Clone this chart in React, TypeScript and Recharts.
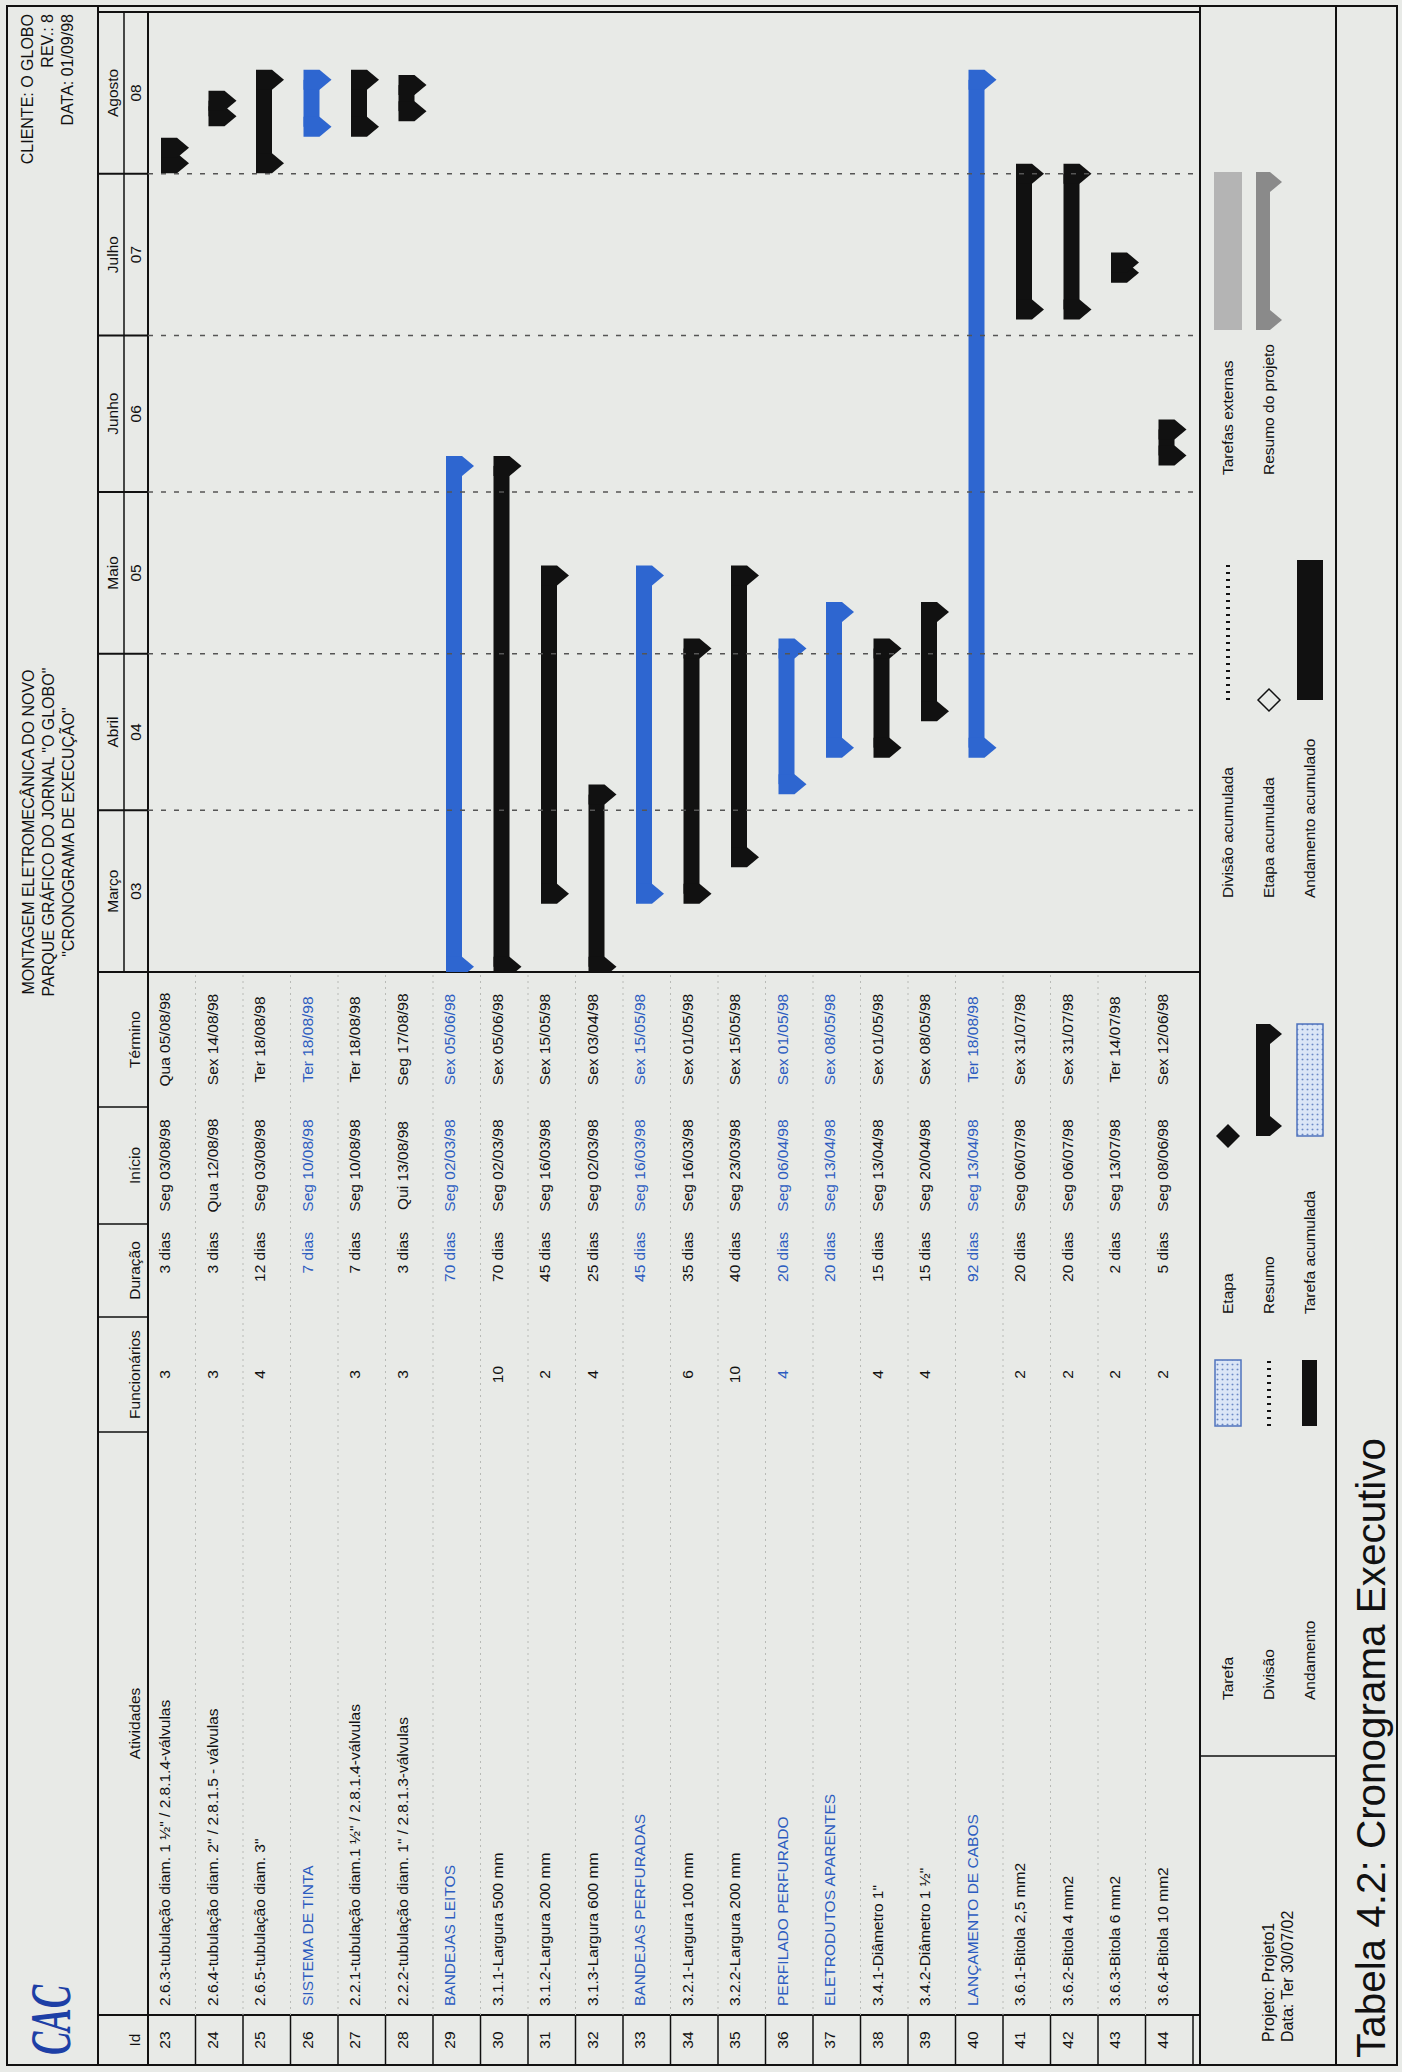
import React from 'react';
import { BarChart, Bar, XAxis, YAxis, ReferenceLine } from 'recharts';

// ---------------- data ----------------
const ids = [23, 24, 25, 26, 27, 28, 29, 30, 31, 32, 33, 34, 35, 36, 37, 38, 39, 40, 41, 42, 43, 44];
const activities = [
  '2.6.3-tubulação diam. 1 ½" / 2.8.1.4-válvulas',
  '2.6.4-tubulação diam. 2" / 2.8.1.5 - válvulas',
  '2.6.5-tubulação diam. 3"',
  'SISTEMA DE TINTA',
  '2.2.1-tubulação diam.1 ½" / 2.8.1.4-válvulas',
  '2.2.2-tubulação diam. 1" / 2.8.1.3-válvulas',
  'BANDEJAS LEITOS',
  '3.1.1-Largura 500 mm',
  '3.1.2-Largura 200 mm',
  '3.1.3-Largura 600 mm',
  'BANDEJAS PERFURADAS',
  '3.2.1-Largura 100 mm',
  '3.2.2-Largura 200 mm',
  'PERFILADO PERFURADO',
  'ELETRODUTOS APARENTES',
  '3.4.1-Diâmetro 1"',
  '3.4.2-Diâmetro 1 ½"',
  'LANÇAMENTO DE CABOS',
  '3.6.1-Bitola 2,5 mm2',
  '3.6.2-Bitola 4 mm2',
  '3.6.3-Bitola 6 mm2',
  '3.6.4-Bitola 10 mm2',
];
const workers = ['3', '3', '4', '', '3', '3', '', '10', '2', '4', '', '6', '10', '4', '', '4', '4', '', '2', '2', '2', '2'];
const durations = ['3 dias', '3 dias', '12 dias', '7 dias', '7 dias', '3 dias', '70 dias', '70 dias', '45 dias', '25 dias', '45 dias', '35 dias', '40 dias', '20 dias', '20 dias', '15 dias', '15 dias', '92 dias', '20 dias', '20 dias', '2 dias', '5 dias'];
const starts = ['Seg 03/08/98', 'Qua 12/08/98', 'Seg 03/08/98', 'Seg 10/08/98', 'Seg 10/08/98', 'Qui 13/08/98', 'Seg 02/03/98', 'Seg 02/03/98', 'Seg 16/03/98', 'Seg 02/03/98', 'Seg 16/03/98', 'Seg 16/03/98', 'Seg 23/03/98', 'Seg 06/04/98', 'Seg 13/04/98', 'Seg 13/04/98', 'Seg 20/04/98', 'Seg 13/04/98', 'Seg 06/07/98', 'Seg 06/07/98', 'Seg 13/07/98', 'Seg 08/06/98'];
const ends = ['Qua 05/08/98', 'Sex 14/08/98', 'Ter 18/08/98', 'Ter 18/08/98', 'Ter 18/08/98', 'Seg 17/08/98', 'Sex 05/06/98', 'Sex 05/06/98', 'Sex 15/05/98', 'Sex 03/04/98', 'Sex 15/05/98', 'Sex 01/05/98', 'Sex 15/05/98', 'Sex 01/05/98', 'Sex 08/05/98', 'Sex 01/05/98', 'Sex 08/05/98', 'Ter 18/08/98', 'Sex 31/07/98', 'Sex 31/07/98', 'Ter 14/07/98', 'Sex 12/06/98'];
const summaryIds = [26, 29, 33, 36, 37, 40];
const monthNames = ['Março', 'Abril', 'Maio', 'Junho', 'Julho', 'Agosto'];
const monthNumbers = ['03', '04', '05', '06', '07', '08'];
const monthStarts = ['01/03/98', '01/04/98', '01/05/98', '01/06/98', '01/07/98', '01/08/98', '01/09/98'];
const columnHeaders = ['Id', 'Atividades', 'Funcionários', 'Duração', 'Início', 'Término'];
const titleLines = ['MONTAGEM ELETROMECÂNICA DO NOVO', 'PARQUE GRÁFICO DO JORNAL "O GLOBO"', '"CRONOGRAMA DE EXECUÇÃO"'];
const clientLines = ['CLIENTE: O GLOBO', 'REV.: 8', 'DATA: 01/09/98'];
const projectLines = ['Projeto: Projeto1', 'Data: Ter 30/07/02'];
const legendCol1 = ['Tarefa', 'Divisão', 'Andamento'];
const legendCol2 = ['Etapa', 'Resumo', 'Tarefa acumulada'];
const legendCol3 = ['Divisão acumulada', 'Etapa acumulada', 'Andamento acumulado'];
const legendCol4 = ['Tarefas externas', 'Resumo do projeto'];
const caption = 'Tabela 4.2: Cronograma Executivo';

// ---------------- helpers ----------------
const BASE = Date.UTC(1998, 2, 1);
const dayOf = (s: string) => {
  const [d, m, y] = s.slice(-8).split('/').map(Number);
  return (Date.UTC(1900 + y, m - 1, d) - BASE) / 86400000;
};
const boundaryDays = monthStarts.map(dayOf);
const midDays = monthNames.map((_, i) => (boundaryDays[i] + boundaryDays[i + 1]) / 2);

const rows = ids.map((id, i) => ({
  id: String(id),
  range: [dayOf(starts[i]), dayOf(ends[i]) + 1],
  summary: summaryIds.includes(id),
}));

// ---------------- style / layout ----------------
const FONT = "'Liberation Sans Narrow','Arial Narrow','Liberation Sans',Arial,sans-serif";
const BLUE_TEXT = '#2c5cc0';
const BLUE_BAR = '#2e66d0';
const INK = '#111';
const BG = '#e8eae7';

const PAGE_W = 2072;
const PAGE_H = 1402;
const FX0 = 7, FY0 = 7, FX1 = 2066, FY1 = 1397;
const HEAD_Y = 98;
const ROW_TOP = 148;
const PITCH = 47.5;
const N = ids.length;
const TABLE_BOTTOM = 1200;
const LEGEND_BOTTOM = 1336;
const COLS = [FX0, 57, 640, 755, 848, 965, 1100];
const CHART_RIGHT = 2060;
const CHART_W = CHART_RIGHT - COLS[6];
const HEADER_H = ROW_TOP - HEAD_Y;
const CHART_H = HEADER_H + N * PITCH + (TABLE_BOTTOM - (ROW_TOP + N * PITCH));

const summaryShape = (x0: number, x1: number, top: number, color: string, body = 16, tip = 28, hw = 10) => {
  const cap = (cx: number) =>
    `${cx - hw},${top} ${cx + hw},${top} ${cx + hw},${top + body} ${cx},${top + tip} ${cx - hw},${top + body}`;
  return (
    <g fill={color}>
      <rect x={x0} y={top} width={Math.max(0, x1 - x0)} height={body} />
      <polygon points={cap(x0)} />
      <polygon points={cap(x1)} />
    </g>
  );
};

const GanttShape = (props: any) => {
  const { x, y, width, height, payload } = props;
  if (x == null || width == null) return null;
  const color = payload && payload.summary ? BLUE_BAR : INK;
  const top = y + height / 2 - 11;
  return summaryShape(x, x + width, top, color);
};

const MonthTick = (props: any) => {
  const { x, payload } = props;
  const v = payload.value;
  const bi = boundaryDays.indexOf(v);
  if (bi >= 0) {
    return <line x1={x} x2={x} y1={0} y2={HEADER_H} stroke={INK} strokeWidth={2} />;
  }
  const mi = midDays.indexOf(v);
  if (mi < 0) return null;
  return (
    <g fontFamily={FONT} fontSize={15.5} fill={INK}>
      <text x={x} y={20} textAnchor="middle">{monthNames[mi]}</text>
      <text x={x} y={43} textAnchor="middle">{monthNumbers[mi]}</text>
    </g>
  );
};

const colCenter = (c: number) => (COLS[c] + COLS[c + 1]) / 2;

export default function App() {
  const legendRowsY = [1228, 1269, 1310];
  return (
    <div style={{ position: 'absolute', left: 0, top: 0, width: 1402, height: 2072, overflow: 'hidden', background: BG }}>
      <div
        style={{
          position: 'absolute', left: 0, top: 0, width: PAGE_W, height: PAGE_H,
          transformOrigin: '0 0', transform: `translate(0px, ${PAGE_W}px) rotate(-90deg)`,
        }}
      >
        <svg width={PAGE_W} height={PAGE_H} style={{ position: 'absolute', left: 0, top: 0 }} fontFamily={FONT}>
          <defs>
            <pattern id="dots" width="5" height="5" patternUnits="userSpaceOnUse">
              <rect width="5" height="5" fill="#dbe6f6" />
              <circle cx="2.5" cy="2.5" r="0.9" fill="#6a88c4" />
            </pattern>
          </defs>
          <rect x={0} y={0} width={PAGE_W} height={PAGE_H} fill={BG} />
          {/* frame */}
          <rect x={FX0} y={FY0} width={FX1 - FX0} height={FY1 - FY0} fill="none" stroke={INK} strokeWidth={2} />
          <line x1={FX0} x2={FX1} y1={HEAD_Y} y2={HEAD_Y} stroke={INK} strokeWidth={2} />
          <line x1={CHART_RIGHT} x2={CHART_RIGHT} y1={HEAD_Y} y2={TABLE_BOTTOM} stroke={INK} strokeWidth={2} />
          <line x1={FX0} x2={CHART_RIGHT} y1={ROW_TOP} y2={ROW_TOP} stroke={INK} strokeWidth={2} />
          <line x1={COLS[6]} x2={CHART_RIGHT} y1={HEAD_Y + 26} y2={HEAD_Y + 26} stroke={INK} strokeWidth={1.5} />
          <line x1={FX0} x2={FX1} y1={TABLE_BOTTOM} y2={TABLE_BOTTOM} stroke={INK} strokeWidth={2} />
          <line x1={FX0} x2={FX1} y1={LEGEND_BOTTOM} y2={LEGEND_BOTTOM} stroke={INK} strokeWidth={2} />
          <line x1={316} x2={316} y1={TABLE_BOTTOM} y2={LEGEND_BOTTOM} stroke={INK} strokeWidth={1.5} />
          {/* column separators in header */}
          {COLS.slice(1, 6).map((c, i) => (
            <line key={'hc' + i} x1={c} x2={c} y1={HEAD_Y} y2={ROW_TOP} stroke={INK} strokeWidth={1.5} />
          ))}
          <line x1={COLS[1]} x2={COLS[1]} y1={HEAD_Y} y2={TABLE_BOTTOM} stroke={INK} strokeWidth={2} />
          <line x1={COLS[6]} x2={COLS[6]} y1={HEAD_Y} y2={TABLE_BOTTOM} stroke={INK} strokeWidth={2} />
          {/* row separators */}
          {ids.map((_, i) => {
            const yb = ROW_TOP + (i + 1) * PITCH;
            return (
              <g key={'rs' + i}>
                <line x1={FX0} x2={COLS[1]} y1={yb} y2={yb} stroke={INK} strokeWidth={1.5} />
                {i < N - 1 && (
                  <line x1={COLS[1]} x2={COLS[6]} y1={yb} y2={yb} stroke="#b8bab6" strokeWidth={1} strokeDasharray="2 4" />
                )}
              </g>
            );
          })}
          {/* title band */}
          <text x={17} y={70} fontFamily="'Liberation Serif','Times New Roman',serif" fontStyle="italic" fontWeight="bold" fontSize={58}
            fill="#1d3fa6" textLength={70} lengthAdjust="spacingAndGlyphs">CAC</text>
          {titleLines.map((t, i) => (
            <text key={'tl' + i} x={1240} y={34 + i * 20} textAnchor="middle" fontSize={16} fill={INK}>{t}</text>
          ))}
          {clientLines.map((t, i) => (
            <text key={'cl' + i} x={2058} y={33 + i * 20} textAnchor="end" fontSize={16} fill={INK}>{t}</text>
          ))}
          {/* column headers */}
          {columnHeaders.map((h, c) => (
            <text key={'ch' + c} x={colCenter(c)} y={140} textAnchor="middle" fontSize={15.5} fill={INK}>{h}</text>
          ))}
          {/* rows */}
          {ids.map((id, i) => {
            const base = ROW_TOP + i * PITCH + 22;
            const col = summaryIds.includes(id) ? BLUE_TEXT : INK;
            return (
              <g key={'r' + i} fontSize={15.5} fill={col}>
                <text x={colCenter(0)} y={base} textAnchor="middle" fill={INK}>{id}</text>
                <text x={COLS[1] + 9} y={base}>{activities[i]}</text>
                <text x={colCenter(2)} y={base} textAnchor="middle">{workers[i]}</text>
                <text x={COLS[4] - 8} y={base} textAnchor="end">{durations[i]}</text>
                <text x={colCenter(4)} y={base} textAnchor="middle">{starts[i]}</text>
                <text x={colCenter(5)} y={base} textAnchor="middle">{ends[i]}</text>
              </g>
            );
          })}
          {/* project box */}
          {projectLines.map((t, i) => (
            <text key={'pl' + i} x={30} y={1274 + i * 19} fontSize={16} fill={INK}>{t}</text>
          ))}
          {/* legend */}
          <g fontSize={15.5} fill={INK}>
            {legendCol1.map((t, i) => <text key={'l1' + i} x={372} y={legendRowsY[i] + 5}>{t}</text>)}
            {legendCol2.map((t, i) => <text key={'l2' + i} x={758} y={legendRowsY[i] + 5}>{t}</text>)}
            {legendCol3.map((t, i) => <text key={'l3' + i} x={1174} y={legendRowsY[i] + 5}>{t}</text>)}
            {legendCol4.map((t, i) => <text key={'l4' + i} x={1597} y={legendRowsY[i] + 5}>{t}</text>)}
          </g>
          {/* legend symbols col 1 */}
          <rect x={646} y={legendRowsY[0] - 13} width={66} height={26} fill="url(#dots)" stroke="#4f73bd" strokeWidth={1.5} />
          <line x1={646} x2={712} y1={legendRowsY[1]} y2={legendRowsY[1]} stroke={INK} strokeWidth={4} strokeDasharray="2 5" />
          <rect x={646} y={legendRowsY[2] - 8} width={66} height={15} fill={INK} />
          {/* col 2 */}
          <polygon points={`${936},${legendRowsY[0] - 12} ${948},${legendRowsY[0]} ${936},${legendRowsY[0] + 12} ${924},${legendRowsY[0]}`} fill={INK} />
          {summaryShape(946, 1038, legendRowsY[1] - 13, INK, 14, 26, 10)}
          <rect x={936} y={legendRowsY[2] - 13} width={112} height={26} fill="url(#dots)" stroke="#4f73bd" strokeWidth={1.5} />
          {/* col 3 */}
          <line x1={1372} x2={1512} y1={legendRowsY[0]} y2={legendRowsY[0]} stroke={INK} strokeWidth={4} strokeDasharray="2 5" />
          <polygon points={`${1372},${legendRowsY[1] - 11} ${1383},${legendRowsY[1]} ${1372},${legendRowsY[1] + 11} ${1361},${legendRowsY[1]}`} fill="none" stroke={INK} strokeWidth={1.5} />
          <rect x={1372} y={legendRowsY[2] - 13} width={140} height={26} fill={INK} />
          {/* col 4 */}
          <rect x={1742} y={legendRowsY[0] - 14} width={158} height={28} fill="#b4b4b4" />
          {summaryShape(1752, 1890, legendRowsY[1] - 13, '#8a8a8a', 14, 26, 10)}
          {/* caption */}
          <text x={14} y={1385} fontSize={40} fill={INK} textLength={620} lengthAdjust="spacingAndGlyphs">{caption}</text>
        </svg>
        <div style={{ position: 'absolute', left: COLS[6], top: HEAD_Y }}>
          <BarChart
            layout="vertical"
            width={CHART_W}
            height={CHART_H}
            data={rows}
            margin={{ top: 0, right: 0, bottom: CHART_H - HEADER_H - N * PITCH, left: 0 }}
            barCategoryGap={0}
            barGap={0}
          >
            <XAxis
              type="number"
              orientation="top"
              domain={[boundaryDays[0], boundaryDays[boundaryDays.length - 1]]}
              ticks={[...boundaryDays, ...midDays]}
              interval={0}
              height={HEADER_H}
              tick={<MonthTick />}
              tickLine={false}
              axisLine={false}
              allowDataOverflow
            />
            <YAxis type="category" dataKey="id" hide />
            {boundaryDays.slice(1, -1).map((d, i) => (
              <ReferenceLine key={'ref' + i} x={d} stroke="#555" strokeWidth={1.5} strokeDasharray="5 8" />
            ))}
            <Bar dataKey="range" shape={<GanttShape />} isAnimationActive={false} />
          </BarChart>
        </div>
      </div>
    </div>
  );
}
